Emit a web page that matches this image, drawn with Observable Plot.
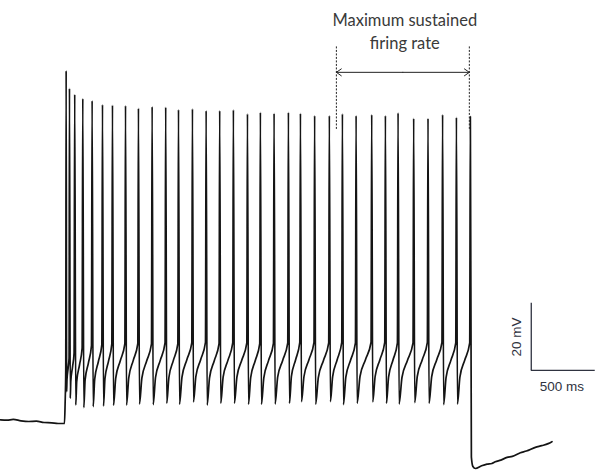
<!DOCTYPE html>
<html>
<head>
<meta charset="utf-8">
<script src="https://cdn.jsdelivr.net/npm/d3@7"></script>
<script src="https://cdn.jsdelivr.net/npm/@observablehq/plot@0.6"></script>
<style>
  html, body { margin: 0; padding: 0; background: #fff; }
  #chart svg { display: block; }
</style>
</head>
<body>
<div id="chart"></div>
<script>
// Membrane potential (mV) against time (ms) during a long current step.

// Resting baseline before the step
const baseTimes = [0, 50, 100, 160, 220, 280, 340, 400, 450, 500];
const baseVolts = [-68.9, -69.0, -68.8, -69.2, -69.4, -69.3, -69.7, -69.8, -70.0, -70.0];

// Onset of the depolarising step, up to the first spike
const onsetTimes = [505, 510];
const onsetVolts = [-64, -54];

// Action potentials: time and peak of each spike
const spikeTimes = [513, 539, 580, 643, 716, 797, 875, 977, 1078, 1185, 1291, 1391, 1500,
  1607, 1713, 1820, 1930, 2031, 2138, 2250, 2344, 2455, 2570, 2672, 2779, 2901, 3008,
  3107, 3229, 3341, 3455, 3563, 3672];
const spikePeaks = [35.1, 29.8, 28.0, 26.8, 26.2, 25.0, 24.8, 24.7, 23.9, 24.4, 24.2, 23.5, 23.7,
  23.2, 23.2, 23.4, 22.2, 22.7, 22.4, 22.7, 22.4, 21.7, 21.7, 22.2, 21.7, 22.0, 21.7,
  22.5, 20.9, 20.9, 22.0, 21.2, 21.4];

// Interspike intervals: AHP trough, two points on the recovery, and threshold before the next spike
const ahpTroughs = [-60.5, -62.5, -64.5, -65.3, -65.0, -64.8, -64.6, -64.5, -64.2, -64.4, -64.0, -64.3,
  -63.6, -64.5, -64.0, -64.0, -64.3, -64.3, -64.2, -64.0, -63.5, -64.3, -63.5, -64.4,
  -64.0, -63.6, -64.0, -64.2, -63.8, -64.0, -64.4, -64.2];
const recoveryEarly = [-57.0, -57.5, -57.5, -57.0, -56.8, -56.6, -56.5, -56.4, -56.5, -56.3, -56.3, -56.2,
  -56.0, -56.4, -56.2, -56.2, -56.3, -56.4, -56.2, -56.0, -56.0, -56.3, -56.1, -56.2,
  -56.0, -56.0, -56.2, -56.3, -56.0, -56.1, -56.3, -56.2];
const recoveryLate = [-53.5, -53.0, -52.5, -52.0, -51.6, -51.5, -51.3, -51.2, -51.4, -51.2, -51.2, -51.0,
  -51.0, -51.3, -51.2, -51.1, -51.3, -51.2, -51.2, -51.0, -51.0, -51.2, -51.0, -51.1,
  -51.0, -51.0, -51.1, -51.2, -51.0, -51.0, -51.2, -51.1];
const thresholds = [-50.5, -49.0, -47.5, -46.8, -46.5, -46.3, -46.2, -46.2, -46.3, -46.0, -46.2, -46.0,
  -45.8, -46.2, -46.0, -46.0, -46.2, -46.1, -46.0, -45.8, -45.8, -46.0, -45.8, -46.0,
  -45.8, -45.8, -46.0, -46.0, -45.8, -45.8, -46.0, -46.0];

// After the step: repolarisation and slow recovery
const offTimes = [3680, 3692, 3711, 3760, 3802, 3840, 3867, 3910, 3959, 4000, 4063, 4110, 4180, 4230, 4280, 4310];
const offVolts = [-80.0, -82.8, -83.4, -82.6, -82.1, -81.9, -81.4, -80.9, -80.1, -79.8, -78.7, -78.2, -77.1, -76.6, -76.0, -75.4];

// Annotation of the maximum sustained firing window
const windowStart = 2625;
const windowEnd = 3664;
const annotationLines = ["Maximum sustained", "firing rate"];
const annotationVolts = [49.9, 43.2];

// Scale bar: 500 ms by 20 mV
const scaleTime = 500;
const scaleVolt = 20;
const scaleLabels = ["20 mV", "500 ms"];

// Assemble the trace from the values above
const trace = [];
baseTimes.forEach((t, i) => trace.push({t, v: baseVolts[i]}));
onsetTimes.forEach((t, i) => trace.push({t, v: onsetVolts[i]}));
spikeTimes.forEach((t, i) => {
  trace.push({t, v: spikePeaks[i]});
  if (i < spikeTimes.length - 1) {
    const next = spikeTimes[i + 1];
    const isi = next - t;
    trace.push({t: t + Math.min(8, isi * 0.15), v: ahpTroughs[i]});
    trace.push({t: t + isi * 0.25, v: recoveryEarly[i]});
    trace.push({t: t + isi * 0.6, v: recoveryLate[i]});
    trace.push({t: next - Math.min(5, isi * 0.12), v: thresholds[i]});
  }
});
offTimes.forEach((t, i) => trace.push({t, v: offVolts[i]}));

const barX = 4148, barY = -54.2;
const ink = "#141414";
const labelInk = "#3a3a3a";
const barInk = "#2f3340";

const mid = (windowStart + windowEnd) / 2;
const arrowY = 34.6;

const chart = Plot.plot({
  width: 595,
  height: 470,
  marginTop: 0, marginRight: 0, marginBottom: 0, marginLeft: 0,
  x: {domain: [0, 4650], axis: null},
  y: {domain: [-84, 56], axis: null},
  marks: [
    Plot.line(trace, {x: "t", y: "v", stroke: ink, strokeWidth: 1.7, curve: "monotone-x"}),
    // window markers
    Plot.ruleX([windowStart, windowEnd], {y1: 17.6, y2: 42.6, stroke: "#222", strokeWidth: 1, strokeDasharray: "2,1.5"}),
    Plot.arrow([{a: mid, b: windowStart}, {a: mid, b: windowEnd}], {
      x1: "a", x2: "b", y1: arrowY, y2: arrowY,
      stroke: "#222", strokeWidth: 1, headLength: 9, headAngle: 70, insetStart: 0, insetEnd: 0
    }),
    Plot.text(annotationLines, {
      x: mid + 15, y: (d, i) => annotationVolts[i], text: d => d,
      fontSize: 16.5, fill: labelInk, fontFamily: "Lato, 'Open Sans', sans-serif"
    }),
    // scale bar
    Plot.ruleX([barX], {y1: barY, y2: barY + scaleVolt, stroke: barInk, strokeWidth: 1.3}),
    Plot.ruleY([barY], {x1: barX, x2: barX + scaleTime, stroke: barInk, strokeWidth: 1.3}),
    Plot.text([scaleLabels[0]], {x: 4037, y: barY + scaleVolt / 2, text: d => d, rotate: -90,
      fontSize: 13.5, fill: barInk, fontFamily: "'Liberation Sans', Arial, sans-serif"}),
    Plot.text([scaleLabels[1]], {x: barX + scaleTime / 2 - 10, y: -59, text: d => d,
      fontSize: 13.5, fill: barInk, fontFamily: "'Liberation Sans', Arial, sans-serif"})
  ]
});
document.getElementById("chart").appendChild(chart);
</script>
</body>
</html>
